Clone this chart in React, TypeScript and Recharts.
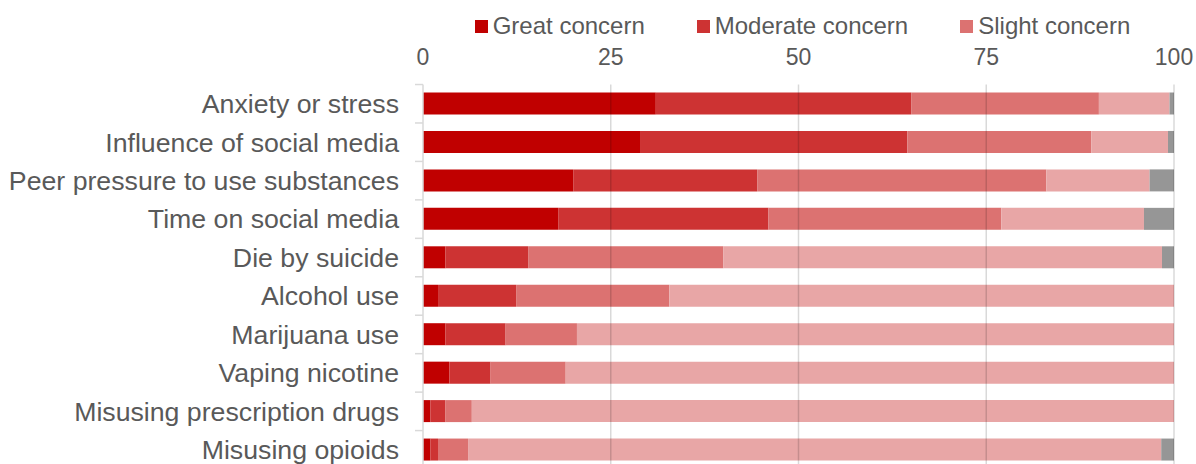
import { BarChart, Bar, XAxis, YAxis, ReferenceLine, Legend } from "recharts";

const CATEGORIES = [
  "Anxiety or stress",
  "Influence of social media",
  "Peer pressure to use substances",
  "Time on social media",
  "Die by suicide",
  "Alcohol use",
  "Marijuana use",
  "Vaping nicotine",
  "Misusing prescription drugs",
  "Misusing opioids",
];

const GREAT = [31, 29, 20, 18, 3, 2, 3, 3.5, 1, 1];
const MODERATE = [34, 35.5, 24.5, 28, 11, 10.4, 8, 5.5, 2, 1];
const SLIGHT = [25, 24.5, 38.5, 31, 26, 20.4, 9.5, 10, 3.5, 4];
const NOT_AT_ALL = [9.4, 10.2, 13.75, 19, 58.4, 67.2, 79.5, 81, 93.5, 92.3];
const NO_ANSWER = [0.6, 0.8, 3.25, 4, 1.6, 0, 0, 0, 0, 1.7];

const X_TICKS = [0, 25, 50, 75, 100];
const GRID_LINES = [25, 50, 75, 100];

const LEGEND_ITEMS = [
  { label: "Great concern", color: "#C00000" },
  { label: "Moderate concern", color: "#CD3333" },
  { label: "Slight concern", color: "#DC7271" },
];

const data = CATEGORIES.map((name, i) => ({
  name,
  great: GREAT[i],
  moderate: MODERATE[i],
  slight: SLIGHT[i],
  notAtAll: NOT_AT_ALL[i],
  noAnswer: NO_ANSWER[i],
}));

const FONT = '"Liberation Sans", Arial, sans-serif';
const TEXT = "#595959";
const HALF_BAND = 19.2;

// label at the row centre, small tick mark at the row's top edge (excel style)
const CategoryTick = (props: any) => {
  const { x, y, payload } = props;
  return (
    <g>
      <line x1={x - 8} x2={x} y1={y - HALF_BAND} y2={y - HALF_BAND} stroke="#d9d9d9" strokeWidth={1.5} />
      <text x={x - 24} y={y} dy={9.4} textAnchor="end" fill={TEXT} fontSize={26.7} fontFamily={FONT}>
        {payload.value}
      </text>
    </g>
  );
};

const LegendContent = () => (
  <div style={{ display: "flex", justifyContent: "center", fontFamily: FONT, fontSize: 24, color: TEXT }}>
    {LEGEND_ITEMS.map((item, i) => (
      <div
        key={item.label}
        style={{ display: "flex", alignItems: "center", height: 28, marginLeft: i === 0 ? 0 : 52 }}
      >
        <span style={{ width: 13, height: 13, background: item.color, marginRight: 5 }} />
        <span style={{ lineHeight: "28px" }}>{item.label}</span>
      </div>
    ))}
  </div>
);

export default function App() {
  return (
    <div style={{ position: "absolute", top: 0, left: 0, width: 1196, height: 464, overflow: "hidden", background: "#fff" }}>
      <BarChart
        width={1196}
        height={470}
        data={data}
        layout="vertical"
        margin={{ top: 40, right: 22, bottom: 1, left: 0 }}
        barSize={22}
        style={{ fontFamily: FONT }}
      >
        <XAxis
          type="number"
          orientation="top"
          domain={[0, 100]}
          ticks={X_TICKS}
          axisLine={false}
          tickLine={false}
          tickSize={0}
          tickMargin={19.5}
          height={44.5}
          tick={{ fill: TEXT, fontSize: 23, fontFamily: FONT }}
          interval={0}
        />
        <YAxis
          type="category"
          dataKey="name"
          width={423}
          axisLine={{ stroke: "#d9d9d9", strokeWidth: 1.5 }}
          tickLine={false}
          tickSize={0}
          tickMargin={0}
          tick={<CategoryTick />}
          interval={0}
        />
        <Legend verticalAlign="middle" align="center" wrapperStyle={{ top: 12, left: 427, width: 751 }} content={<LegendContent />} />
        <Bar dataKey="great" stackId="a" fill="#C00000" isAnimationActive={false} />
        <Bar dataKey="moderate" stackId="a" fill="#CD3333" isAnimationActive={false} />
        <Bar dataKey="slight" stackId="a" fill="#DC7271" isAnimationActive={false} />
        <Bar dataKey="notAtAll" stackId="a" fill="#E8A6A6" isAnimationActive={false} />
        <Bar dataKey="noAnswer" stackId="a" fill="#969696" isAnimationActive={false} />
        {GRID_LINES.map((v) => (
          <ReferenceLine key={v} x={v} stroke="#000" strokeOpacity={0.15} strokeWidth={1.5} />
        ))}
      </BarChart>
    </div>
  );
}
